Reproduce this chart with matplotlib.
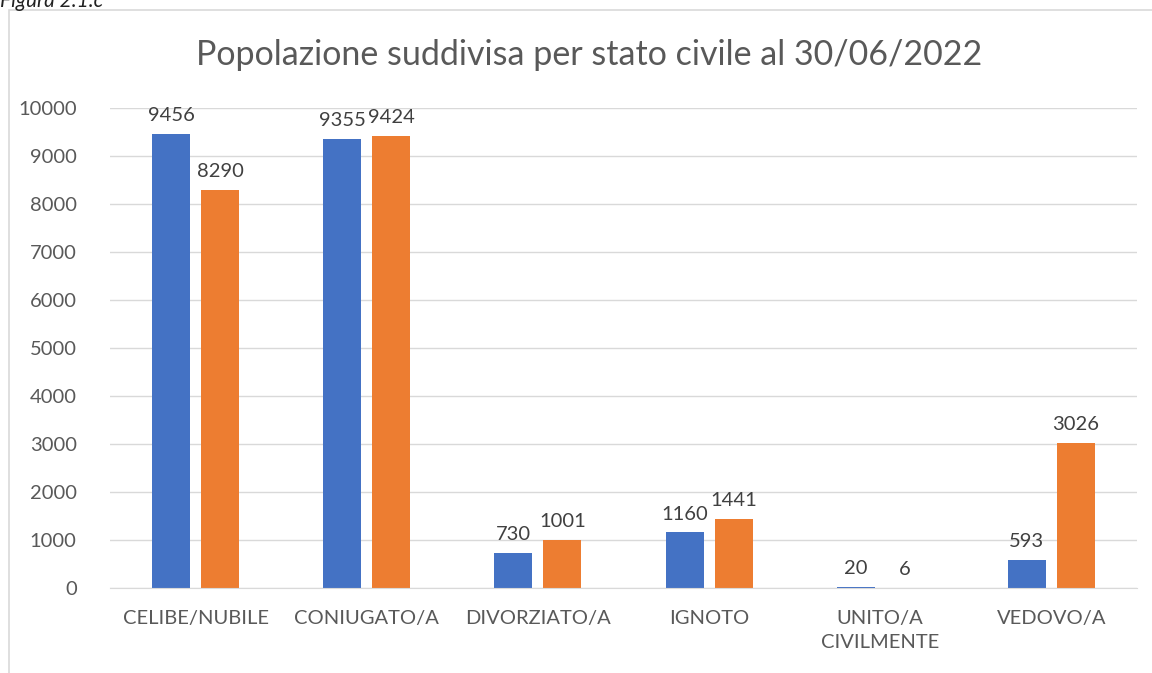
import matplotlib.pyplot as plt
import numpy as np
from matplotlib.patches import Rectangle

plt.rcParams['font.family'] = ['Lato', 'DejaVu Sans']

# data
categories = ["CELIBE/NUBILE", "CONIUGATO/A", "DIVORZIATO/A", "IGNOTO", "UNITO/A\nCIVILMENTE", "VEDOVO/A"]
serie_blu = [9456, 9355, 730, 1160, 20, 593]
serie_arancio = [8290, 9424, 1001, 1441, 6, 3026]

text_col = "#595959"
grid_col = "#D9D9D9"

fig = plt.figure(figsize=(11.52, 6.73), dpi=100)
ax = fig.add_axes([110 / 1152, 1 - 588 / 673, 1027 / 1152, 480 / 673])

x = np.arange(len(categories))
w = 0.222
off = 0.143
b1 = ax.bar(x - off, serie_blu, w, color="#4472C4")
b2 = ax.bar(x + off, serie_arancio, w, color="#ED7D31")

for bars in (b1, b2):
    for r in bars:
        ax.annotate(f"{int(r.get_height())}", (r.get_x() + r.get_width() / 2, r.get_height()),
                    xytext=(0, 7), textcoords="offset points", ha="center", va="bottom",
                    fontsize=14.5, color="#404040")

ax.set_xlim(-0.5, len(categories) - 0.5)
ax.set_ylim(0, 10000)
ax.set_yticks(range(0, 10001, 1000))
ax.set_xticks(x)
ax.set_xticklabels(categories, fontsize=14.5, color=text_col, linespacing=1.45)
ax.tick_params(axis="y", labelsize=14.5, labelcolor=text_col, length=0, pad=24)
ax.tick_params(axis="x", length=0, pad=16)
ax.grid(axis="y", color=grid_col, linewidth=1)
ax.set_axisbelow(True)
for s in ["top", "right", "left"]:
    ax.spines[s].set_visible(False)
ax.spines["bottom"].set_color(grid_col)

fig.text(0.5 * (1 + 20 / 1152) + 0.003, 1 - 55 / 673, "Popolazione suddivisa per stato civile al 30/06/2022",
         ha="center", va="center", fontsize=24.5, color=text_col)

# chart frame (only top and left edges visible)
fig.add_artist(Rectangle((9 / 1152, -0.1), 1.2, 1 - 10 / 673 + 0.1, transform=fig.transFigure,
                         fill=False, edgecolor="#D9D9D9", linewidth=1.2))
fig.text(0.0, 1 - 7 / 673, "Figura 2.1.c", fontsize=15, style="italic", color="#222222",
         ha="left", va="baseline")

fig.savefig("out.png", dpi=100)
